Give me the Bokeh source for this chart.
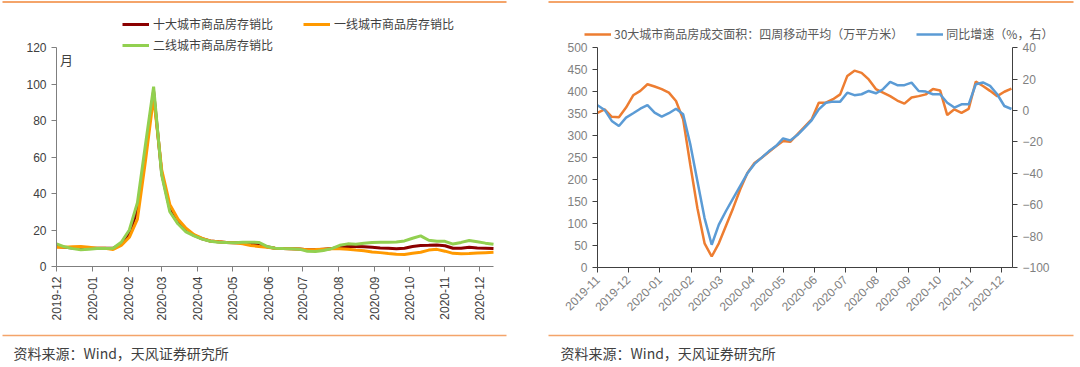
import math
import pandas as pd
from bokeh.plotting import figure
from bokeh.models import (Range1d, LinearAxis, DatetimeTickFormatter, MonthsTicker, Legend,
                          LegendItem, Label, BoxAnnotation, FixedTicker)
from bokeh.layouts import row
from bokeh.embed import file_html
from bokeh.resources import INLINE

# ---------------- data: left chart (weekly, from 2019-12-01) ----------------
left_dates = pd.date_range("2019-12-01", periods=55, freq="7D")
top10_ratio = [11, 10.5, 10.2, 10, 10, 10, 10, 10, 12.5, 18, 31, 63, 96, 51, 31.5, 24.5, 20, 17, 15.2,
               14, 13.5, 13.2, 13, 13, 12.5, 12.5, 10.8, 10, 9.8, 9.7, 9.6, 9.2, 9.2, 9.5, 9.8, 10.7,
               11, 11, 10.8, 10.5, 10.2, 10, 9.7, 10, 11, 11.5, 11.6, 11.8, 11.4, 10, 10, 10.5, 10.2, 10, 9.8]
tier1_ratio = [10.6, 10.5, 10.8, 11, 10.5, 10, 10, 9.3, 11.5, 16, 26, 58, 93, 53, 34, 26, 21, 17.5, 15.4,
               14, 13.5, 13.2, 13, 12.5, 11.5, 11, 10.6, 10, 9.8, 9.7, 9.6, 9.2, 9.3, 9.5, 9.7, 9.7,
               9.5, 9, 8.6, 8, 7.6, 7.1, 6.7, 6.6, 7.2, 7.8, 9, 9.4, 8.4, 7.2, 7, 7.1, 7.4, 7.6, 7.8]
tier2_ratio = [12.4, 10.8, 9.8, 9.2, 9.5, 9.8, 9.8, 10, 13.3, 20, 35, 67, 98.5, 50, 30, 23.4, 19, 16.8, 15,
               13.8, 13.3, 13.1, 13, 13.3, 13.3, 13.2, 11, 10, 9.8, 9.7, 9.5, 8.4, 8.2, 8.8, 9.8, 11.6,
               12.4, 12.2, 12.8, 13.2, 13.3, 13.3, 13.4, 14, 15.5, 16.8, 14.4, 13.8, 13.8, 12.3, 13.2, 14.2, 13.6, 12.8, 12.2]
left_labels = ["十大城市商品房存销比", "一线城市商品房存销比", "二线城市商品房存销比"]
left_yticks = [0, 20, 40, 60, 80, 100, 120]

# ---------------- data: right chart (weekly, from 2019-11-01) ----------------
right_dates = pd.date_range("2019-11-01", periods=59, freq="7D")
area_4wk = [352, 360, 343, 342, 364, 392, 402, 417, 412, 406, 398, 379, 337, 234, 135, 55, 25, 55, 95, 135,
            178, 215, 238, 250, 263, 276, 288, 286, 303, 320, 337, 375, 375, 383, 394, 436, 448, 443, 428, 406,
            398, 390, 380, 373, 387, 390, 394, 406, 403, 347, 360, 352, 361, 423, 413, 402, 390, 400, 407]
yoy_growth = [3.4, 0.4, -6.6, -9.8, -4.5, -1.7, 1.2, 3.4, -1.3, -3.9, -1.7, 1.2, -2.4, -21.5, -45, -68.5,
              -85.5, -72.7, -64, -56, -48, -40, -34, -30, -26, -22.6, -17.7, -19, -15.6, -11, -6.2, 0.8,
              5, 5.7, 5.7, 11.4, 9.8, 10.4, 12.5, 11, 13.6, 18.3, 16.2, 16.2, 17.8, 12.5, 12.1, 10.4, 10.4,
              5, 1.9, 4, 4, 16.8, 17.9, 15.7, 10.4, 2.9, 1.0]
right_labels = ["30大城市商品房成交面积：四周移动平均（万平方米）", "同比增速（%，右）"]
left_axis_ticks = list(range(0, 501, 50))
right_axis_ticks = list(range(-100, 41, 20))

source_text = "资料来源：Wind，天风证券研究所"

CJK = "Noto Sans CJK SC"
LAT = "Liberation Sans"
ACCENT = "#F4A46A"
H = 366


def ms(s):
    return pd.Timestamp(s).value / 1e6


class Mapper:
    """linear map between page pixels and data values, from two anchors."""
    def __init__(self, v0, p0, v1, p1):
        self.k = (v1 - v0) / (p1 - p0)
        self.v0, self.p0 = v0, p0

    def __call__(self, px):
        return self.v0 + (px - self.p0) * self.k


def month_fmt():
    f = "%Y-%m"
    return DatetimeTickFormatter(days=f, months=f, years=f, hours=f, minutes=f, seconds=f,
                                 milliseconds=f, microseconds=f, hourmin=f, minsec=f)


def style_axis(ax, label_color, line_color):
    ax.axis_line_color = line_color
    ax.major_tick_line_color = line_color
    ax.major_tick_in = 0
    ax.major_tick_out = 5
    ax.minor_tick_line_color = None
    ax.major_label_text_color = label_color
    ax.major_label_text_font = LAT
    ax.major_label_text_font_size = "12px"


def make_fig(width, mx, my, page_left):
    p = figure(width=width, height=H, x_axis_type="datetime", output_backend="svg", toolbar_location=None,
               x_range=Range1d(mx(page_left), mx(page_left + width)), y_range=Range1d(my(H), my(0)),
               min_border=0, min_border_left=0, min_border_right=0, min_border_top=0, min_border_bottom=0)
    p.title.visible = False
    p.outline_line_color = None
    p.grid.visible = False
    p.background_fill_color = "white"
    p.border_fill_color = "white"
    return p


def add_frame_extras(p, mx, my, page_left, src_page_x, rule_x0, rule_x1):
    for top_px, bot_px in ((0.5, 2.5), (334.3, 335.8)):
        p.add_layout(BoxAnnotation(left=mx(rule_x0), right=mx(rule_x1), top=my(top_px), bottom=my(bot_px),
                                   fill_color=ACCENT, fill_alpha=1, line_color=None))
    p.add_layout(Label(x=src_page_x - page_left, y=H - 352, x_units="screen", y_units="screen",
                       text=source_text, text_font=CJK, text_font_size="14px", text_color="#404040",
                       text_baseline="middle", text_align="left"))


# ---------------- left figure (page x 0..540) ----------------
L0, LW = 0, 540
mxl = Mapper(ms("2019-12-01"), 56, ms("2020-12-13"), 493)
myl = Mapper(0, 266, 120, 47)
p1 = make_fig(LW, mxl, myl, L0)
p1.xaxis.ticker = MonthsTicker(months=list(range(1, 13)))
p1.xaxis.formatter = month_fmt()
p1.xaxis.major_label_orientation = math.pi / 2
p1.xaxis.fixed_location = 0
p1.xaxis.bounds = (ms("2019-12-01"), ms("2020-12-13"))
p1.yaxis.ticker = FixedTicker(ticks=left_yticks)
p1.yaxis.fixed_location = ms("2019-12-01")
p1.yaxis.bounds = (0, 120)
for ax in (p1.xaxis[0], p1.yaxis[0]):
    style_axis(ax, "#404040", "#7f7f7f")

r1 = p1.line(left_dates, top10_ratio, line_color="#8B0000", line_width=3)
r2 = p1.line(left_dates, tier1_ratio, line_color="#FF9900", line_width=3)
r3 = p1.line(left_dates, tier2_ratio, line_color="#92D050", line_width=3)

common_leg = dict(orientation="horizontal", padding=0, margin=0, spacing=30, glyph_width=27, glyph_height=14,
                  label_height=14, label_standoff=4, label_text_font=CJK, label_text_font_size="12px",
                  label_text_color="#404040", border_line_color=None, background_fill_alpha=0)
leg1 = Legend(items=[LegendItem(label=left_labels[0], renderers=[r1]),
                     LegendItem(label=left_labels[1], renderers=[r2])],
              location=(122 - L0, H - (25 + 7)), **common_leg)
leg2 = Legend(items=[LegendItem(label=left_labels[2], renderers=[r3])],
              location=(122 - L0, H - (46 + 7)), **common_leg)
p1.add_layout(leg1)
p1.add_layout(leg2)
p1.add_layout(Label(x=ms("2019-12-04"), y=113.5, text="月", text_font=CJK,
                    text_font_size="13px", text_color="#404040", text_baseline="middle"))
add_frame_extras(p1, mxl, myl, L0, 13, 2, 506)

# ---------------- right figure (page x 540..1079) ----------------
R0, RW = 540, 539
mxr = Mapper(ms("2019-11-01"), 597, ms("2020-12-12"), 1012)
myr = Mapper(0, 267, 500, 47.3)
myr2 = Mapper(-100, 267, 40, 47.3)
p2 = make_fig(RW, mxr, myr, R0)
p2.extra_y_ranges = {"yoy": Range1d(myr2(H), myr2(0))}
p2.xaxis.ticker = MonthsTicker(months=list(range(1, 13)))
p2.xaxis.formatter = month_fmt()
p2.xaxis.major_label_orientation = math.pi / 4
p2.xaxis.fixed_location = 0
p2.xaxis.bounds = (ms("2019-11-01"), ms("2020-12-12"))
p2.yaxis.ticker = FixedTicker(ticks=left_axis_ticks)
p2.yaxis.fixed_location = ms("2019-11-01")
p2.yaxis.bounds = (0, 500)
ax_r = LinearAxis(y_range_name="yoy", ticker=FixedTicker(ticks=right_axis_ticks),
                  fixed_location=ms("2020-12-12"), bounds=(-100, 40))
p2.add_layout(ax_r, "right")
for ax in (p2.xaxis[0], p2.yaxis[0], ax_r):
    style_axis(ax, "#7f7f7f", "#404040")

q1 = p2.line(right_dates, area_4wk, line_color="#ED7D31", line_width=2.5)
q2 = p2.line(right_dates, yoy_growth, line_color="#5B9BD5", line_width=2.5, y_range_name="yoy")
leg3 = Legend(items=[LegendItem(label=right_labels[0], renderers=[q1]),
                     LegendItem(label=right_labels[1], renderers=[q2])],
              location=(584 - R0, H - (35 + 7)), orientation="horizontal", padding=0, margin=0,
              spacing=13, glyph_width=27, glyph_height=14, label_height=14, label_standoff=3,
              label_text_font=CJK, label_text_font_size="12px", label_text_color="#595959",
              border_line_color=None, background_fill_alpha=0)
p2.add_layout(leg3)
add_frame_extras(p2, mxr, myr, R0, 560, 548, 1073)

layout = row(p1, p2)
open("out.html", "w").write(file_html(layout, INLINE))
